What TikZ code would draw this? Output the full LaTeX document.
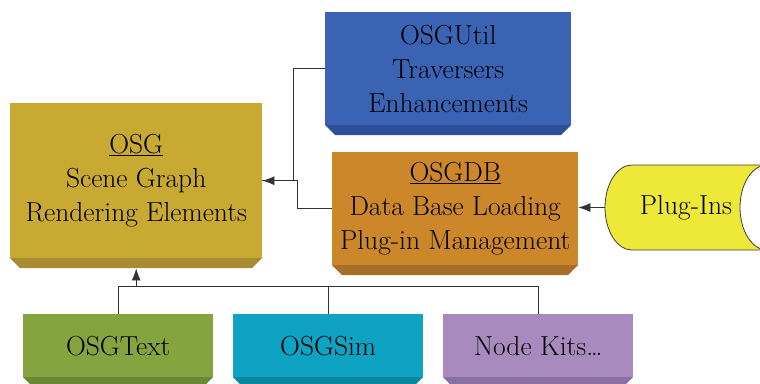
\documentclass[tikz,border=0pt]{standalone}
\usetikzlibrary{arrows.meta}

\definecolor{goldface}{HTML}{C8A931}\definecolor{goldbevel}{HTML}{A88B33}
\definecolor{blueface}{HTML}{3A63B3}\definecolor{bluebevel}{HTML}{2D4F98}
\definecolor{orangeface}{HTML}{CC872A}\definecolor{orangebevel}{HTML}{A56F2A}
\definecolor{greenface}{HTML}{84A43F}\definecolor{greenbevel}{HTML}{6B8835}
\definecolor{cyanface}{HTML}{0FA3C3}\definecolor{cyanbevel}{HTML}{0B86A1}
\definecolor{purpleface}{HTML}{A88ABF}\definecolor{purplebevel}{HTML}{8A6FA2}
\definecolor{pluginyellow}{HTML}{EEE838}
\definecolor{linegray}{HTML}{333333}

% #1 name, #2 x, #3 y, #4 width, #5 height, #6 face colour, #7 bevel colour, #8 text
\newcommand\osgbox[8]{%
  \fill[#7] (#2,#3+#5) -- (#2+#4,#3+#5) -- (#2+#4-10,#3+#5+10) -- (#2+10,#3+#5+10) -- cycle;
  \node[box, fill=#6, minimum width=#4pt, minimum height=#5pt] (#1) at (#2,#3) {#8};}

\begin{document}
\begin{tikzpicture}[x=1pt,y=-1pt,
  lbl/.style={font=\fontsize{27.5}{34}\selectfont, text=black},
  box/.style={lbl, rectangle, inner sep=0pt, align=center, anchor=north west},
  conn/.style={draw=linegray, line width=0.8pt},
  tip/.style={-{Latex[length=12pt,width=9pt]}}]
\useasboundingbox (0,0) rectangle (760,383);
\clip (0,0) rectangle (760,383);

% library boxes
\osgbox{osg}{10}{103}{252}{155}{goldface}{goldbevel}{\underline{OSG}\\Scene Graph\\Rendering Elements}
\osgbox{util}{325}{12}{246}{113}{blueface}{bluebevel}{OSGUtil\\Traversers\\Enhancements}
\osgbox{db}{332}{152}{246}{113}{orangeface}{orangebevel}{\underline{OSGDB}\\Data Base Loading\\Plug-in Management}
\osgbox{text}{23}{314}{190}{63}{greenface}{greenbevel}{OSGText}
\osgbox{sim}{233}{314}{190}{63}{cyanface}{cyanbevel}{OSGSim}
\osgbox{kits}{443}{314}{190}{63}{purpleface}{purplebevel}{Node Kits\ldots}

% stored-data shape for the plug-ins
\draw[fill=pluginyellow, draw=black!75, line width=0.8pt]
  (632,165) -- (767,165)
  .. controls (752.1,165) and (740,184) .. (740,207.5)
  .. controls (740,231) and (752.1,250) .. (767,250)
  -- (632,250)
  .. controls (617.1,250) and (605,231) .. (605,207.5)
  .. controls (605,184) and (617.1,165) .. (632,165) -- cycle;
\node[lbl, inner sep=0pt] (plug) at (686,207.5) {Plug-Ins};
\coordinate (plugL) at (605,207.5);

% connectors
\draw[conn] (util.west) -- ++(-32,0) |- (osg.east);
\draw[conn,tip] (db.west) -- ++(-35,0) |- (osg.east);
\draw[conn,tip] (plugL) -- (plugL -| db.east);

\coordinate (bus) at ([yshift=28pt]text.north);
\coordinate (osgbase) at ([yshift=-10pt]osg.south);
\draw[conn] (text.north) -- (bus) -| (kits.north);
\draw[conn] (sim.north) -- (sim.north |- bus);
\draw[conn,tip] (osgbase |- bus) -- (osgbase);
\end{tikzpicture}
\end{document}
